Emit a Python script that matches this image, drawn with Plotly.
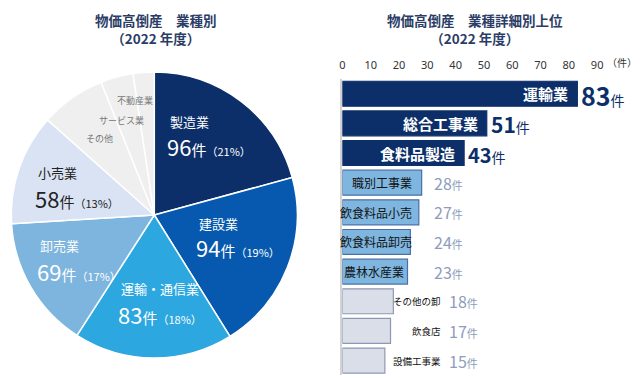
import plotly.graph_objects as go

# ---------------- data ----------------
pie_labels = ["製造業", "建設業", "運輸・通信業", "卸売業", "小売業", "その他", "サービス業", "不動産業"]
pie_values = [96, 94, 83, 69, 58, 34, 17, 11]
pie_pcts = [21, 19, 18, 17, 13, None, None, None]

bar_cats = ["運輸業", "総合工事業", "食料品製造", "職別工事業", "飲食料品小売",
            "飲食料品卸売", "農林水産業", "その他の卸", "飲食店", "設備工事業"]
bar_values = [83, 51, 43, 28, 27, 24, 23, 18, 17, 15]
tick_vals = [0, 10, 20, 30, 40, 50, 60, 70, 80, 90]

W, H = 640, 378
FONT = "Noto Sans CJK JP"
NAVY = "#0D2F69"
TITLE_C = "#2B3D66"


def px(x):
    return x / W


def py(y):
    return 1 - y / H


pie_colors = ["#0D2F69", "#0659AE", "#2CA7DF", "#7DB5DE", "#DAE3F3", "#EFEFEF", "#EFEFEF", "#EFEFEF"]

fig = go.Figure()
fig.add_trace(go.Pie(
    labels=pie_labels, values=pie_values, sort=False, direction="clockwise",
    rotation=0, textinfo="none", hoverinfo="label+value",
    marker=dict(colors=pie_colors, line=dict(color="white", width=1.5)),
    domain=dict(x=[px(8), px(296)], y=[py(358), py(72)]),
    showlegend=False,
))

# bar colours by group
bar_fill, bar_line = [], []
for i, v in enumerate(bar_values):
    if i < 3:
        bar_fill.append(NAVY); bar_line.append(NAVY)
    elif i < 7:
        bar_fill.append("#7FB6DF"); bar_line.append("#4B6FA6")
    else:
        bar_fill.append("#D9DEE8"); bar_line.append("#8E98B2")

fig.add_trace(go.Bar(
    x=bar_values, y=bar_cats, orientation="h",
    marker=dict(color=bar_fill, line=dict(color=bar_line, width=1.2)),
    hoverinfo="x+y", showlegend=False, xaxis="x", yaxis="y",
))

ann = []


def A(**kw):
    kw.setdefault("showarrow", False)
    kw.setdefault("xanchor", "center")
    kw.setdefault("yanchor", "middle")
    ann.append(kw)


# titles
for cx, line1 in [(154, "物価高倒産　業種別"), (474, "物価高倒産　業種詳細別上位")]:
    A(x=px(cx), y=py(29), xref="paper", yref="paper",
      text="<b>" + line1 + "</b><br><b>（2022 年度）</b>",
      font=dict(size=13.5, color=TITLE_C, family=FONT))

# pie labels (positions in pixels)
pie_pos = {
    "製造業": (166, 121, 146, "white"),
    "建設業": (195, 223, 247, "white"),
    "運輸・通信業": (117, 288, 314, "white"),
    "卸売業": (35, 245, 271, "white"),
    "小売業": (33, 172, 198, "#222222"),
}
for lab, val, pct in zip(pie_labels, pie_values, pie_pcts):
    if lab in pie_pos:
        x0, y1, y2, col = pie_pos[lab]
        A(x=px(x0), y=py(y1), xref="paper", yref="paper", xanchor="left",
          text=lab, font=dict(size=13, color=col, family=FONT))
        A(x=px(x0 - 3), y=py(y2), xref="paper", yref="paper", xanchor="left",
          text=f"{val}<span style='font-size:15px'>件</span>"
               f"<span style='font-size:11px'>（{pct}%）</span>",
          font=dict(size=22, color=col, family=FONT))
small_pos = {"その他": (97, 139), "サービス業": (119, 120), "不動産業": (133, 100)}
for lab in pie_labels:
    if lab in small_pos:
        x0, y0 = small_pos[lab]
        A(x=px(x0), y=py(y0), xref="paper", yref="paper",
          text=lab, font=dict(size=9, color="#777777", family=FONT))

# bar labels
top_sizes = [25, 21, 20]
for i, (c, v) in enumerate(zip(bar_cats, bar_values)):
    if i < 3:
        A(x=v, y=c, xref="x", yref="y", xanchor="right", xshift=-7,
          text=f"<b>{c}</b>", font=dict(size=15, color="white", family=FONT))
        A(x=v, y=c, xref="x", yref="y", xanchor="left", xshift=2, yshift=-1,
          text=f"<b>{v}</b><span style='font-size:14px'>件</span>",
          font=dict(size=top_sizes[i], color=NAVY, family=FONT))
    elif i < 7:
        if i == 6:
            A(x=v, y=c, xref="x", yref="y", xanchor="right", xshift=-2,
              text=c, font=dict(size=12, color="#111111", family=FONT))
        else:
            A(x=25.3, y=c, xref="x", yref="y", xanchor="right",
              text=c, font=dict(size=12, color="#111111", family=FONT))
        A(x=31.5, y=c, xref="x", yref="y", xanchor="left",
          text=f"{v}<span style='font-size:11px'>件</span>",
          font=dict(size=16, color="#8E9DBB", family=FONT))
    else:
        A(x=35.5, y=c, xref="x", yref="y", xanchor="right",
          text=c, font=dict(size=9.5, color="#111111", family=FONT))
        A(x=36.8, y=c, xref="x", yref="y", xanchor="left",
          text=f"{v}<span style='font-size:11px'>件</span>",
          font=dict(size=16, color="#8E9DBB", family=FONT))

A(x=px(622), y=py(63), xref="paper", yref="paper", text="（件）",
  font=dict(size=10, color="#333333", family=FONT))

x0px, unit = 341, 2.844
fig.update_layout(
    width=W, height=H, margin=dict(l=0, r=0, t=0, b=0),
    paper_bgcolor="white", plot_bgcolor="white",
    font=dict(family=FONT),
    bargap=0.16,
    xaxis=dict(domain=[px(x0px), px(x0px + 100 * unit)], range=[0, 100], side="top",
               tickvals=tick_vals, ticks="", showgrid=False, zeroline=False, showline=False,
               tickfont=dict(size=11, color="#333333", family="Noto Sans"), anchor="y",
               ticklabelstandoff=7),
    yaxis=dict(domain=[py(375.4), py(78.9)], categoryorder="array", categoryarray=bar_cats,
               range=[9.5, -0.5], showticklabels=False, ticks="", showgrid=False,
               zeroline=False, showline=True, linecolor="#D3D3D3", linewidth=2, anchor="x"),
    annotations=ann,
)

fig.write_html("out.html", config={"displayModeBar": False},
               post_script="document.body.style.margin='0';document.body.style.overflow='hidden';")
